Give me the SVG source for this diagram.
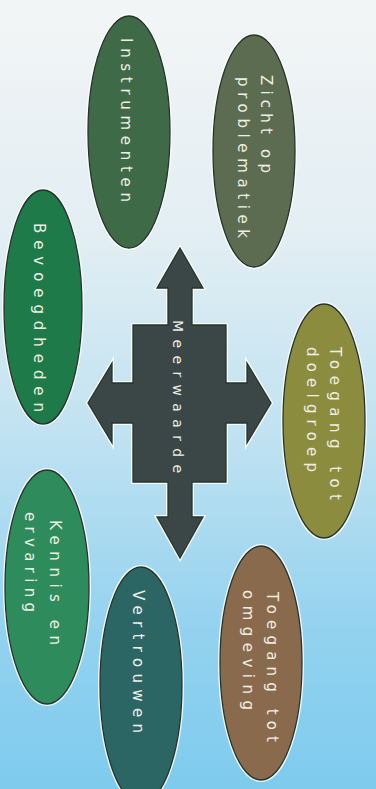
<svg xmlns="http://www.w3.org/2000/svg" width="376" height="789" viewBox="0 0 376 789">
<defs>
<linearGradient id="bg" x1="0" y1="0" x2="0" y2="1">
<stop offset="0" stop-color="#f3f5f5"/>
<stop offset="0.3" stop-color="#e2eef3"/>
<stop offset="0.55" stop-color="#c0e2f1"/>
<stop offset="0.8" stop-color="#93d2ef"/>
<stop offset="1" stop-color="#7ecbee"/>
</linearGradient>
</defs>
<style>
.halo{fill:none;stroke:#ffffff;stroke-opacity:0.85;stroke-width:4}
.node{stroke:#26352c;stroke-width:1.3}
.lbl{fill:#efefe6;font-family:"DejaVu Sans","Liberation Sans",sans-serif;font-size:15px}
.mid{font-size:14px}
</style>
<rect x="0" y="0" width="376" height="789" fill="url(#bg)"/>
<g id="connectors"/>
<g id="instrumenten">
<ellipse class="halo" cx="129" cy="132" rx="41" ry="116"/>
<ellipse class="node" cx="129" cy="132" rx="41" ry="116" fill="#3f6a48"/>
<text class="lbl" transform="translate(121,38) rotate(90)" textLength="164" lengthAdjust="spacing">Instrumenten</text>
</g>
<g id="zicht-op-problematiek">
<ellipse class="halo" cx="254" cy="151" rx="41" ry="116"/>
<ellipse class="node" cx="254" cy="151" rx="41" ry="116" fill="#5b6c50"/>
<text class="lbl" transform="translate(261,75) rotate(90)" textLength="98" lengthAdjust="spacing">Zicht op</text>
<text class="lbl" transform="translate(238,77) rotate(90)" textLength="161" lengthAdjust="spacing">problematiek</text>
</g>
<g id="bevoegdheden">
<ellipse class="halo" cx="43" cy="307" rx="39" ry="117"/>
<ellipse class="node" cx="43" cy="307" rx="39" ry="117" fill="#1e7a48"/>
<text class="lbl" transform="translate(34,223) rotate(90)" textLength="189" lengthAdjust="spacing">Bevoegdheden</text>
</g>
<g id="toegang-tot-doelgroep">
<ellipse class="halo" cx="324" cy="421" rx="41" ry="117"/>
<ellipse class="node" cx="324" cy="421" rx="41" ry="117" fill="#8c8c3e"/>
<text class="lbl" transform="translate(330,347) rotate(90)" textLength="153" lengthAdjust="spacing">Toegang tot</text>
<text class="lbl" transform="translate(307,347) rotate(90)" textLength="125" lengthAdjust="spacing">doelgroep</text>
</g>
<g id="kennis-en-ervaring">
<ellipse class="halo" cx="47" cy="587" rx="42" ry="117"/>
<ellipse class="node" cx="47" cy="587" rx="42" ry="117" fill="#2e8c5c"/>
<text class="lbl" transform="translate(50,520) rotate(90)" textLength="125" lengthAdjust="spacing">Kennis en</text>
<text class="lbl" transform="translate(25,512) rotate(90)" textLength="100" lengthAdjust="spacing">ervaring</text>
</g>
<g id="vertrouwen">
<ellipse class="halo" cx="141" cy="685" rx="41" ry="118"/>
<ellipse class="node" cx="141" cy="685" rx="41" ry="118" fill="#2b6665"/>
<text class="lbl" transform="translate(133,590) rotate(90)" textLength="143" lengthAdjust="spacing">Vertrouwen</text>
</g>
<g id="toegang-tot-omgeving">
<ellipse class="halo" cx="261" cy="663" rx="41" ry="117"/>
<ellipse class="node" cx="261" cy="663" rx="41" ry="117" fill="#8a6a4c"/>
<text class="lbl" transform="translate(267,592) rotate(90)" textLength="150" lengthAdjust="spacing">Toegang tot</text>
<text class="lbl" transform="translate(243,590) rotate(90)" textLength="120" lengthAdjust="spacing">omgeving</text>
</g>
<g id="meerwaarde">
<polygon class="halo" points="180,248 203,288 192,288 192,325 226,325 226,383 247,383 247,363 271,403 247,443 247,423 226,423 226,482 192,482 192,517 203,517 180,558 157,517 168,517 168,482 133,482 133,423 112,423 112,443 88,403 112,363 112,383 133,383 133,325 168,325 168,288 157,288"/>
<polygon class="node" fill="#3b4646" stroke="#2a3333" points="180,248 203,288 192,288 192,325 226,325 226,383 247,383 247,363 271,403 247,443 247,423 226,423 226,482 192,482 192,517 203,517 180,558 157,517 168,517 168,482 133,482 133,423 112,423 112,443 88,403 112,363 112,383 133,383 133,325 168,325 168,288 157,288"/>
<text class="lbl mid" transform="translate(173,320) rotate(90)" textLength="153" lengthAdjust="spacing">Meerwaarde</text>
</g>
</svg>
